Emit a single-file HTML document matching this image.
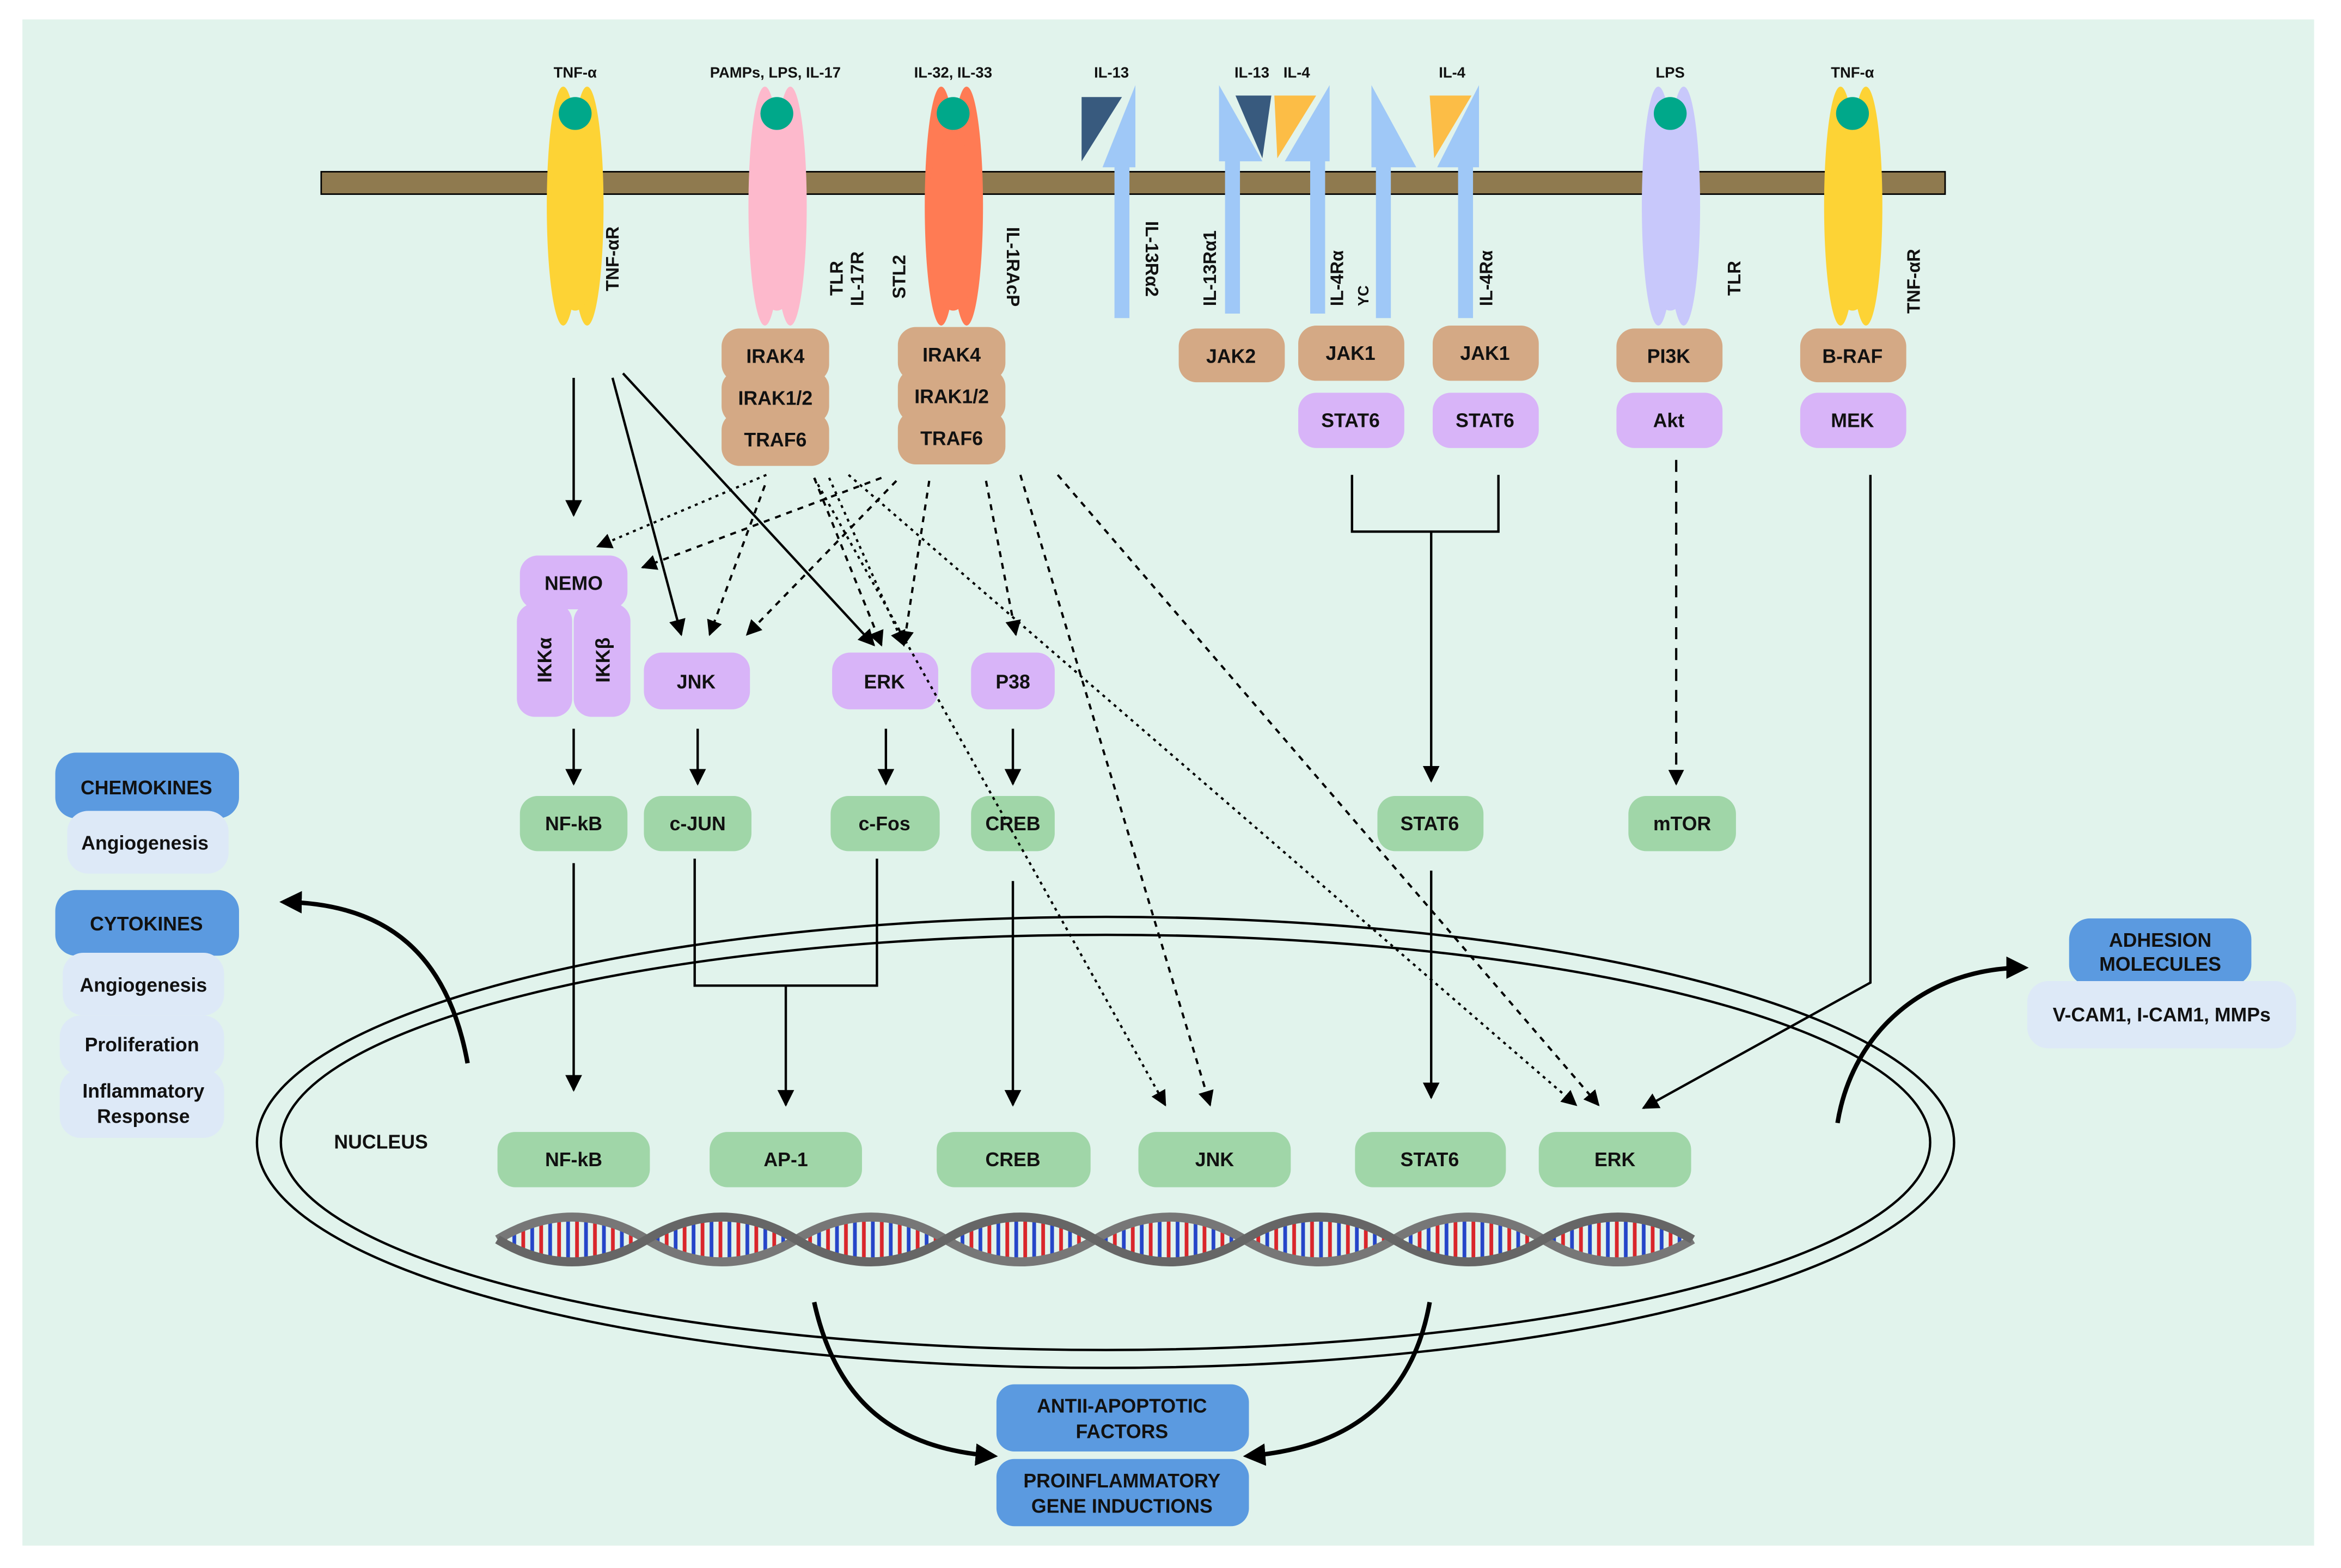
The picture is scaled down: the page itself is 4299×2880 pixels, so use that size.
<!DOCTYPE html>
<html><head><meta charset="utf-8"><style>
html,body{margin:0;padding:0;background:#fff}
svg{display:block}
text{font-family:"Liberation Sans",sans-serif;font-weight:bold;fill:#111}
</style></head><body>
<svg width="4299" height="2880" viewBox="0 0 1567 1050" preserveAspectRatio="none" xmlns="http://www.w3.org/2000/svg">
<defs>
<marker id="ah" viewBox="0 0 10 10" refX="9" refY="5" markerWidth="7" markerHeight="7" orient="auto-start-reverse"><path d="M0,0 L10,5 L0,10 z" fill="#000"/></marker>
<marker id="ahb" viewBox="0 0 10 10" refX="8" refY="5" markerWidth="5" markerHeight="5" orient="auto"><path d="M0,0 L10,5 L0,10 z" fill="#000"/></marker>
<pattern id="rung" width="12" height="40" patternUnits="userSpaceOnUse"><rect x="1" y="0" width="2.5" height="40" fill="#d9262b"/><rect x="7" y="0" width="2.5" height="40" fill="#2545c8"/></pattern>
</defs>
<rect x="15" y="13" width="1534" height="1022" fill="#e1f3ec"/>

<rect x="215" y="115" width="1087" height="15" fill="#8f7a4f" stroke="#000" stroke-width="1"/>

<g>
<ellipse cx="377" cy="138" rx="11" ry="80" fill="#fdd335"/><ellipse cx="393" cy="138" rx="11" ry="80" fill="#fdd335"/><ellipse cx="385" cy="150" rx="17" ry="58" fill="#fdd335"/><circle cx="385" cy="76" r="11" fill="#00a88a"/>
<ellipse cx="512" cy="138" rx="11" ry="80" fill="#fdb9cc"/><ellipse cx="529" cy="138" rx="11" ry="80" fill="#fdb9cc"/><ellipse cx="520" cy="150" rx="18" ry="58" fill="#fdb9cc"/><circle cx="520" cy="76" r="11" fill="#00a88a"/>
<ellipse cx="630" cy="138" rx="11" ry="80" fill="#ff7b54"/><ellipse cx="647" cy="138" rx="11" ry="80" fill="#ff7b54"/><ellipse cx="638" cy="150" rx="18" ry="58" fill="#ff7b54"/><circle cx="638" cy="76" r="11" fill="#00a88a"/>
<ellipse cx="1110" cy="138" rx="11" ry="80" fill="#c8c8fb"/><ellipse cx="1127" cy="138" rx="11" ry="80" fill="#c8c8fb"/><ellipse cx="1118" cy="150" rx="18" ry="58" fill="#c8c8fb"/><circle cx="1118" cy="76" r="11" fill="#00a88a"/>
<ellipse cx="1232" cy="138" rx="11" ry="80" fill="#fdd335"/><ellipse cx="1249" cy="138" rx="11" ry="80" fill="#fdd335"/><ellipse cx="1240" cy="150" rx="18" ry="58" fill="#fdd335"/><circle cx="1240" cy="76" r="11" fill="#00a88a"/>
</g>
<g fill="#9fc8f7">
<rect x="746" y="110" width="10" height="103"/><polygon points="760,57 760,112 738,112"/>
<rect x="820" y="105" width="10" height="105"/><polygon points="816,57 816,108 845,108"/>
<rect x="877" y="105" width="10" height="105"/><polygon points="890,57 890,108 860,108"/>
<rect x="921" y="108" width="10" height="105"/><polygon points="918,57 918,112 948,112"/>
<rect x="976" y="108" width="10" height="105"/><polygon points="990,57 990,112 962,112"/>
</g>
<polygon points="724,65 751,65 724,108" fill="#385a7e"/>
<polygon points="827,64 851,64 845,106" fill="#385a7e"/>
<polygon points="853,64 881,64 855,106" fill="#fcbd46"/>
<polygon points="957,64 985,64 960,106" fill="#fcbd46"/>

<g font-size="10" text-anchor="middle">
<text x="385" y="52">TNF-α</text><text x="519" y="52">PAMPs, LPS, IL-17</text><text x="638" y="52">IL-32, IL-33</text>
<text x="744" y="52">IL-13</text><text x="838" y="52">IL-13</text><text x="868" y="52">IL-4</text><text x="972" y="52">IL-4</text>
<text x="1118" y="52">LPS</text><text x="1240" y="52">TNF-α</text>
</g>
<g font-size="12">
<text transform="translate(414,195) rotate(-90)">TNF-αR</text>
<text transform="translate(564,198) rotate(-90)">TLR</text>
<text transform="translate(578,205) rotate(-90)">IL-17R</text>
<text transform="translate(606,200) rotate(-90)">STL2</text>
<text transform="translate(674,152) rotate(90)">IL-1RAcP</text>
<text transform="translate(767,148) rotate(90)">IL-13Rα2</text>
<text transform="translate(814,205) rotate(-90)">IL-13Rα1</text>
<text transform="translate(899,205) rotate(-90)">IL-4Rα</text>
<text transform="translate(916,205) rotate(-90)" font-size="10">YC</text>
<text transform="translate(999,205) rotate(-90)">IL-4Rα</text>
<text transform="translate(1165,198) rotate(-90)">TLR</text>
<text transform="translate(1285,210) rotate(-90)">TNF-αR</text>
</g>

<g fill="#d4a985">
<rect x="483" y="220" width="72" height="36" rx="12"/><rect x="483" y="248" width="72" height="36" rx="12"/><rect x="483" y="276" width="72" height="36" rx="12"/>
<rect x="601" y="219" width="72" height="36" rx="12"/><rect x="601" y="247" width="72" height="36" rx="12"/><rect x="601" y="275" width="72" height="36" rx="12"/>
<rect x="789" y="220" width="71" height="36" rx="12"/><rect x="869" y="218" width="71" height="37" rx="12"/><rect x="959" y="218" width="71" height="37" rx="12"/>
<rect x="1082" y="220" width="71" height="36" rx="12"/><rect x="1205" y="220" width="71" height="36" rx="12"/>
</g>
<g fill="#d8b4f8">
<rect x="869" y="263" width="71" height="37" rx="12"/><rect x="959" y="263" width="71" height="37" rx="12"/>
<rect x="1082" y="263" width="71" height="37" rx="12"/><rect x="1205" y="263" width="71" height="37" rx="12"/>
<rect x="348" y="372" width="72" height="36" rx="12"/><rect x="346" y="404" width="37" height="76" rx="12"/><rect x="384" y="404" width="38" height="76" rx="12"/>
<rect x="431" y="437" width="71" height="38" rx="12"/><rect x="557" y="437" width="71" height="38" rx="12"/><rect x="650" y="437" width="56" height="38" rx="12"/>
</g>
<g fill="#a0d6a8">
<rect x="348" y="533" width="72" height="37" rx="12"/><rect x="431" y="533" width="72" height="37" rx="12"/><rect x="556" y="533" width="73" height="37" rx="12"/><rect x="650" y="533" width="56" height="37" rx="12"/>
<rect x="922" y="533" width="71" height="37" rx="12"/><rect x="1090" y="533" width="72" height="37" rx="12"/>
<rect x="333" y="758" width="102" height="37" rx="12"/><rect x="475" y="758" width="102" height="37" rx="12"/><rect x="627" y="758" width="103" height="37" rx="12"/>
<rect x="762" y="758" width="102" height="37" rx="12"/><rect x="907" y="758" width="101" height="37" rx="12"/><rect x="1030" y="758" width="102" height="37" rx="12"/>
</g>
<g font-size="13" text-anchor="middle">
<text x="519" y="243">IRAK4</text><text x="519" y="271">IRAK1/2</text><text x="519" y="299">TRAF6</text>
<text x="637" y="242">IRAK4</text><text x="637" y="270">IRAK1/2</text><text x="637" y="298">TRAF6</text>
<text x="824" y="243">JAK2</text><text x="904" y="241">JAK1</text><text x="994" y="241">JAK1</text>
<text x="904" y="286">STAT6</text><text x="994" y="286">STAT6</text>
<text x="1117" y="243">PI3K</text><text x="1117" y="286">Akt</text><text x="1240" y="243">B-RAF</text><text x="1240" y="286">MEK</text>
<text x="384" y="395">NEMO</text>
<text transform="translate(369,442) rotate(-90)">IKKα</text><text transform="translate(408,442) rotate(-90)">IKKβ</text>
<text x="466" y="461">JNK</text><text x="592" y="461">ERK</text><text x="678" y="461">P38</text>
<text x="384" y="556">NF-kB</text><text x="467" y="556">c-JUN</text><text x="592" y="556">c-Fos</text><text x="678" y="556">CREB</text>
<text x="957" y="556">STAT6</text><text x="1126" y="556">mTOR</text>
<text x="384" y="781">NF-kB</text><text x="526" y="781">AP-1</text><text x="678" y="781">CREB</text><text x="813" y="781">JNK</text><text x="957" y="781">STAT6</text><text x="1081" y="781">ERK</text>
<text x="255" y="769">NUCLEUS</text>
</g>

<ellipse cx="740" cy="765" rx="568" ry="151" fill="none" stroke="#000" stroke-width="1.6"/>
<ellipse cx="740" cy="765" rx="552" ry="139" fill="none" stroke="#000" stroke-width="1.6"/>

<path d="M333,830 q50,-30 100,0 t100,0 t100,0 t100,0 t100,0 t100,0 t100,0 t100,0 L1133,830 q-50,-30 -100,0 t-100,0 t-100,0 t-100,0 t-100,0 t-100,0 t-100,0 t-100,0 z" fill="url(#rung)"/>
<path d="M333,830 q50,-30 100,0 t100,0 t100,0 t100,0 t100,0 t100,0 t100,0 t100,0" fill="none" stroke="#777" stroke-width="6"/>
<path d="M333,830 q50,30 100,0 t100,0 t100,0 t100,0 t100,0 t100,0 t100,0 t100,0" fill="none" stroke="#666" stroke-width="6"/>

<g stroke="#000" stroke-width="1.6" fill="none">
<line x1="384" y1="253" x2="384" y2="345" marker-end="url(#ah)"/>
<line x1="410" y1="253" x2="456" y2="425" marker-end="url(#ah)"/>
<line x1="417" y1="250" x2="585" y2="432" marker-end="url(#ah)"/>
<line x1="384" y1="488" x2="384" y2="525" marker-end="url(#ah)"/>
<line x1="467" y1="488" x2="467" y2="525" marker-end="url(#ah)"/>
<line x1="593" y1="488" x2="593" y2="525" marker-end="url(#ah)"/>
<line x1="678" y1="488" x2="678" y2="525" marker-end="url(#ah)"/>
<line x1="384" y1="578" x2="384" y2="730" marker-end="url(#ah)"/>
<path d="M465,575 V660 H587 V575"/>
<line x1="526" y1="660" x2="526" y2="740" marker-end="url(#ah)"/>
<line x1="678" y1="590" x2="678" y2="740" marker-end="url(#ah)"/>
<path d="M905,318 V356 H1003 V318"/>
<line x1="958" y1="356" x2="958" y2="523" marker-end="url(#ah)"/>
<line x1="958" y1="583" x2="958" y2="735" marker-end="url(#ah)"/>
<path d="M1252,318 V658 L1100,742" marker-end="url(#ah)"/>
</g>
<g stroke="#000" stroke-width="1.5" fill="none">
<line x1="513" y1="318" x2="400" y2="366" stroke-dasharray="2,3" marker-end="url(#ah)"/>
<line x1="590" y1="320" x2="430" y2="380" stroke-dasharray="4,4" marker-end="url(#ah)"/>
<line x1="512" y1="325" x2="475" y2="425" stroke-dasharray="4,4" marker-end="url(#ah)"/>
<line x1="600" y1="322" x2="500" y2="425" stroke-dasharray="4,4" marker-end="url(#ah)"/>
<line x1="545" y1="320" x2="590" y2="432" stroke-dasharray="4,4" marker-end="url(#ah)"/>
<line x1="555" y1="320" x2="605" y2="432" stroke-dasharray="2,3" marker-end="url(#ah)"/>
<line x1="622" y1="322" x2="605" y2="432" stroke-dasharray="4,4" marker-end="url(#ah)"/>
<line x1="660" y1="322" x2="680" y2="425" stroke-dasharray="4,4" marker-end="url(#ah)"/>
<line x1="683" y1="318" x2="810" y2="740" stroke-dasharray="4,4" marker-end="url(#ah)"/>
<line x1="708" y1="318" x2="1070" y2="740" stroke-dasharray="4,4" marker-end="url(#ah)"/>
<line x1="545" y1="320" x2="780" y2="740" stroke-dasharray="2,3" marker-end="url(#ah)"/>
<line x1="568" y1="318" x2="1055" y2="740" stroke-dasharray="2,3" marker-end="url(#ah)"/>
<line x1="1122" y1="308" x2="1122" y2="525" stroke-dasharray="8,6" marker-end="url(#ah)"/>
</g>
<g stroke="#000" stroke-width="3" fill="none">
<path d="M313,712 C300,640 260,605 190,604" marker-end="url(#ahb)"/>
<path d="M1230,752 C1240,690 1290,648 1355,648" marker-end="url(#ahb)"/>
<path d="M545,872 C560,940 600,970 665,975" marker-end="url(#ahb)"/>
<path d="M957,872 C945,940 900,970 835,975" marker-end="url(#ahb)"/>
</g>

<g>
<rect x="37" y="504" width="123" height="44" rx="14" fill="#5b9ae0"/>
<rect x="45" y="543" width="108" height="42" rx="14" fill="#dde9f7"/>
<rect x="37" y="596" width="123" height="44" rx="14" fill="#5b9ae0"/>
<rect x="42" y="638" width="108" height="42" rx="14" fill="#dde9f7"/>
<rect x="40" y="680" width="110" height="40" rx="14" fill="#dde9f7"/>
<rect x="40" y="716" width="110" height="46" rx="14" fill="#dde9f7"/>
<rect x="1385" y="615" width="122" height="45" rx="14" fill="#5b9ae0"/>
<rect x="1357" y="657" width="180" height="45" rx="14" fill="#dde9f7"/>
<rect x="667" y="927" width="169" height="45" rx="12" fill="#5b9ae0"/>
<rect x="667" y="977" width="169" height="45" rx="12" fill="#5b9ae0"/>
</g>
<g font-size="13" text-anchor="middle">
<text x="98" y="532">CHEMOKINES</text><text x="97" y="569">Angiogenesis</text>
<text x="98" y="623">CYTOKINES</text><text x="96" y="664">Angiogenesis</text><text x="95" y="704">Proliferation</text>
<text x="96" y="735">Inflammatory</text><text x="96" y="752">Response</text>
<text x="1446" y="634">ADHESION</text><text x="1446" y="650">MOLECULES</text>
<text x="1447" y="684">V-CAM1, I-CAM1, MMPs</text>
<text x="751" y="946">ANTII-APOPTOTIC</text><text x="751" y="963">FACTORS</text>
<text x="751" y="996">PROINFLAMMATORY</text><text x="751" y="1013">GENE INDUCTIONS</text>
</g>
</svg>
</body></html>
